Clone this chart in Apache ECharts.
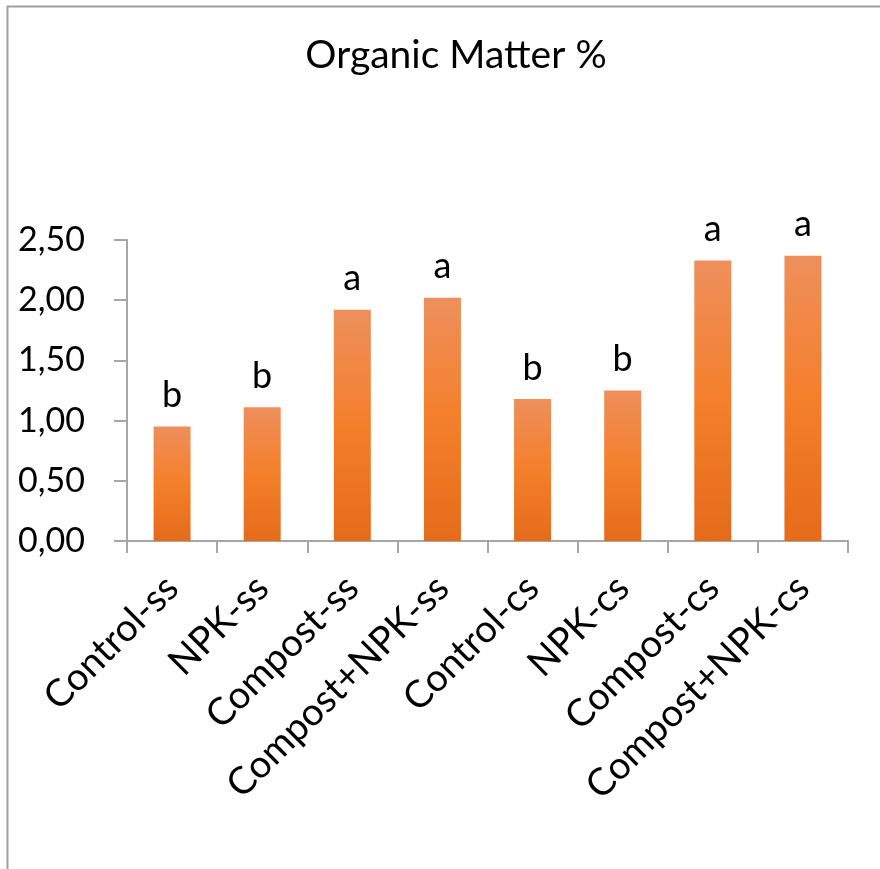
<!DOCTYPE html>
<html>
<head>
<meta charset="utf-8">
<script src="https://cdn.jsdelivr.net/npm/echarts@6/dist/echarts.min.js"></script>
<style>
  html, body { margin: 0; padding: 0; background: #fff; }
  #chart { width: 880px; height: 869px; }
</style>
</head>
<body>
<div id="chart"></div>
<script>
// Soil organic matter by treatment
var categories = ['Control-ss', 'NPK-ss', 'Compost-ss', 'Compost+NPK-ss',
                  'Control-cs', 'NPK-cs', 'Compost-cs', 'Compost+NPK-cs'];
var organicMatter = [0.95, 1.11, 1.92, 2.02, 1.18, 1.25, 2.33, 2.37];
var groupLetters = ['b', 'b', 'a', 'a', 'b', 'b', 'a', 'a'];
var yTicks = { min: 0, max: 2.5, interval: 0.5 };

var FONT = 'Lato, "Open Sans", sans-serif';
var AXIS_GREY = '#a6a6a6';

var chart = echarts.init(document.getElementById('chart'), null, { renderer: 'canvas' });

chart.setOption({
  backgroundColor: '#ffffff',
  animation: false,
  title: {
    text: 'Organic Matter %',
    left: 451,
    textAlign: 'center',
    top: 31,
    textStyle: { fontFamily: FONT, fontSize: 39, fontWeight: 'normal', color: '#000' }
  },
  graphic: [{
    type: 'rect',
    shape: { x: 7.5, y: 6.5, width: 1000, height: 1000 },
    style: { fill: 'none', stroke: '#a0a0a0', lineWidth: 2 },
    silent: true
  }],
  grid: { left: 127, right: 32, top: 240, bottom: 328 },
  xAxis: {
    type: 'category',
    data: categories,
    axisLine: { lineStyle: { color: AXIS_GREY, width: 2 } },
    axisTick: { show: true, length: 12, lineStyle: { color: AXIS_GREY, width: 2 } },
    axisLabel: {
      rotate: 45,
      interval: 0,
      margin: 41,
      fontFamily: FONT,
      fontSize: 38,
      color: '#000'
    }
  },
  yAxis: {
    type: 'value',
    min: yTicks.min,
    max: yTicks.max,
    interval: yTicks.interval,
    splitLine: { show: false },
    axisLine: { show: true, lineStyle: { color: AXIS_GREY, width: 2 } },
    axisTick: { show: true, length: 13, lineStyle: { color: AXIS_GREY, width: 2 } },
    axisLabel: {
      margin: 42,
      fontFamily: FONT,
      fontSize: 34,
      color: '#000',
      formatter: function (v) { return v.toFixed(2).replace('.', ','); }
    }
  },
  series: [{
    type: 'bar',
    data: organicMatter,
    barWidth: 37,
    itemStyle: {
      color: new echarts.graphic.LinearGradient(0, 0, 0, 1, [
        { offset: 0, color: '#ee8f5c' },
        { offset: 0.5, color: '#f47f2a' },
        { offset: 1, color: '#e46b1a' }
      ])
    },
    label: {
      show: true,
      position: 'top',
      distance: 13,
      fontFamily: FONT,
      fontSize: 36,
      color: '#000',
      formatter: function (p) { return groupLetters[p.dataIndex]; }
    }
  }]
});
</script>
</body>
</html>
